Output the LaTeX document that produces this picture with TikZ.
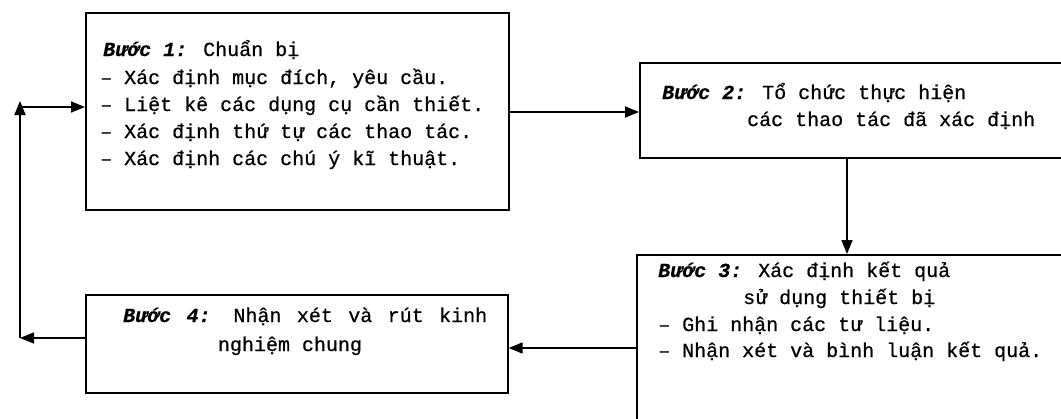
\documentclass[tikz,border=0pt]{standalone}
\usepackage{fontspec}
\setmainfont{Liberation Mono}[FakeBold=0.6]
\usetikzlibrary{arrows.meta}
\tikzset{
  box/.style={draw, line width=1.6pt, inner sep=0pt},
  txt/.style={anchor=base west, inner sep=0pt, font=\fontsize{20}{24}\selectfont},
  conn/.style={line width=1.6pt, -{Triangle[length=14pt,width=11pt]}}
}
\newcommand{\bb}[1]{\textbf{\textit{#1}}}
\begin{document}
\begin{tikzpicture}[x=1pt,y=-1pt]
\useasboundingbox (0,0) rectangle (1061,418);
\clip (0,0) rectangle (1061,418);
% boxes
\node[box, minimum width=423pt, minimum height=197pt, anchor=north west] (b1) at (85,12) {};
\node[box, minimum width=440pt, minimum height=95pt, anchor=north west] (b2) at (639,62) {};
\node[box, minimum width=440pt, minimum height=200pt, anchor=north west] (b3) at (636,254) {};
\node[box, minimum width=422pt, minimum height=98pt, anchor=north west] (b4) at (85,294) {};
% texts box 1
\node[txt] (t11) at (103,56) {\bb{Bước 1:} Chuẩn bị};
\node[txt] (t12) at (100,84) {– Xác định mục đích, yêu cầu.};
\node[txt] (t13) at (100,111) {– Liệt kê các dụng cụ cần thiết.};
\node[txt] (t14) at (100,138) {– Xác định thứ tự các thao tác.};
\node[txt] (t15) at (100,165) {– Xác định các chú ý kĩ thuật.};
% box 2
\node[txt] (t21) at (662,99) {\bb{Bước 2:} Tổ chức thực hiện};
\node[txt] (t22) at (747,126) {các thao tác đã xác định};
% box 3
\node[txt] (t31) at (658,277) {\bb{Bước 3:} Xác định kết quả};
\node[txt] (t32) at (743,304) {sử dụng thiết bị};
\node[txt] (t33) at (658,331) {– Ghi nhận các tư liệu.};
\node[txt] (t34) at (658,357) {– Nhận xét và bình luận kết quả.};
% box 4
\node[txt] (t41) at (123,322) {\makebox[364pt][s]{\bb{Bước 4:} Nhận xét và rút kinh}};
\node[txt, anchor=base] (t42) at (290,351) {nghiệm chung};
% connectors
\coordinate (c1) at (20,338);
\coordinate (c2) at (20,101);
\coordinate (c3) at (20,107);
\draw[conn] (b1.east |- 0,112) -- (b2.west |- 0,112);
\draw[conn] (b2.south -| 847,0) -- (b3.north -| 847,0);
\draw[conn] (b3.west |- 0,348) -- (b4.east |- 0,348);
\draw[conn] (b4.west |- c1) -- (c1);
\draw[conn] (c1) -- (c2);
\draw[conn] (c3) -- (b1.west |- c3);
\end{tikzpicture}
\end{document}
